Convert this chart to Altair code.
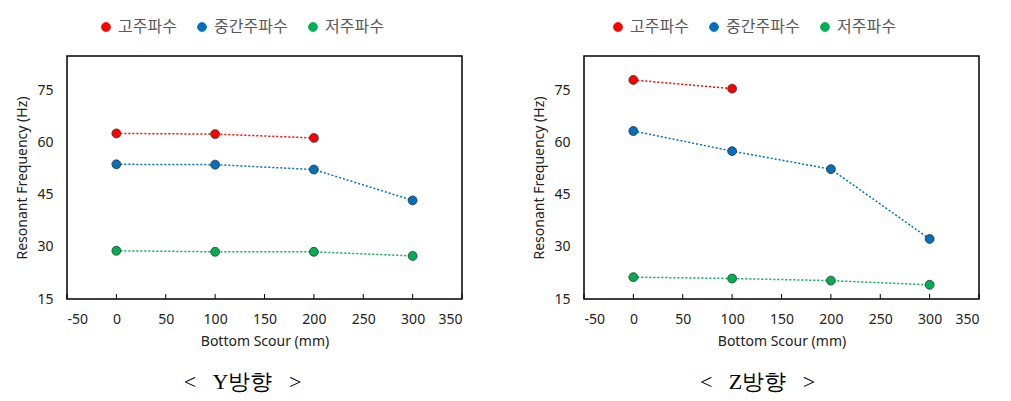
import altair as alt
import pandas as pd

series_names = ["고주파수", "중간주파수", "저주파수"]
series_colors = ["#FF0000", "#0070C0", "#00B050"]

scour = [0, 100, 200, 300]

# Y direction
y_high_x = [0, 100, 200]
y_high = [62.7, 62.5, 61.4]
y_mid = [53.8, 53.7, 52.3, 43.4]
y_low = [28.9, 28.6, 28.6, 27.4]

# Z direction
z_high_x = [0, 100]
z_high = [78.1, 75.6]
z_mid = [63.4, 57.6, 52.4, 32.3]
z_low = [21.3, 20.9, 20.3, 19.1]

x_ticks = [-50, 0, 50, 100, 150, 200, 250, 300, 350]
y_ticks = [15, 30, 45, 60, 75]

NB = "\u00a0"
panel_titles = ["<" + NB * 3 + "Y방향" + NB * 3 + ">", "<" + NB * 3 + "Z방향" + NB * 3 + ">"]

W, H = 395, 243
FONT = "Noto Sans"
KFONT = "Noto Sans CJK KR"


def make_df(hx, h, m, l):
    rows = []
    for x, v in zip(hx, h):
        rows.append({"x": x, "f": v, "s": series_names[0]})
    for x, v in zip(scour, m):
        rows.append({"x": x, "f": v, "s": series_names[1]})
    for x, v in zip(scour, l):
        rows.append({"x": x, "f": v, "s": series_names[2]})
    return pd.DataFrame(rows)


def panel(df, title, lx, tdx):
    xs = alt.Scale(domain=[-50, 350], nice=False, zero=False)
    ys = alt.Scale(domain=[15, 85], nice=False, zero=False)
    cs = alt.Scale(domain=series_names, range=series_colors)
    leg = alt.Legend(title=None, orient="none", legendX=lx, legendY=-37,
                     direction="horizontal", symbolType="circle",
                     symbolSize=80, symbolStrokeColor="#333333",
                     symbolStrokeWidth=0.8, labelFont=KFONT,
                     labelFontSize=16, labelColor="#595959",
                     labelOffset=4, columnPadding=17, padding=0)
    color = alt.Color("s:N", scale=cs, sort=series_names, legend=leg)
    xenc = alt.X("x:Q", scale=xs, title="Bottom Scour (mm)",
                 axis=alt.Axis(values=x_ticks, grid=False, domain=False, ticks=False,
                               labelExpr="datum.value < 0 ? '-' + abs(datum.value) : '' + datum.value",
                               labelFont=FONT, labelFontSize=14, labelColor="#222222",
                               labelPadding=13, titleFont=FONT, titleFontSize=14,
                               titleFontWeight="normal", titleColor="#222222", titlePadding=8))
    yenc = alt.Y("f:Q", scale=ys, title="Resonant Frequency (Hz)",
                 axis=alt.Axis(values=y_ticks, grid=False, domain=False, ticks=False,
                               labelFont=FONT, labelFontSize=14, labelColor="#222222",
                               labelPadding=14, titleFont=FONT, titleFontSize=14,
                               titleFontWeight="normal", titleColor="#222222", titlePadding=7))
    base = alt.Chart(df)
    lines = base.mark_line(strokeDash=[2, 2], strokeWidth=1.5).encode(
        x=xenc, y=yenc, color=color, detail="s:N",
    )
    pts = base.mark_point(filled=True, size=80, stroke="#333333", strokeWidth=0.8, opacity=1).encode(
        x=xenc, y=yenc, color=color,
    )
    tdf = pd.DataFrame({"x": x_ticks})
    ticks = alt.Chart(tdf).mark_rule(color="black", strokeWidth=1).encode(
        x=alt.X("x:Q", scale=xs), y=alt.value(H), y2=alt.value(H - 5)
    )
    return alt.layer(ticks, lines, pts).properties(
        width=W, height=H,
        title=alt.TitleParams(text=title, orient="bottom", font="Liberation Serif",
                              fontSize=22, fontWeight="normal", color="black", offset=24, dx=tdx),
    )


left = panel(make_df(y_high_x, y_high, y_mid, y_low), panel_titles[0], 31, -22)
right = panel(make_df(z_high_x, z_high, z_mid, z_low), panel_titles[1], 26, -24)

chart = alt.hconcat(left, right, spacing=68).resolve_scale(color="independent").properties(
    padding={"left": 7, "top": 10, "right": 5, "bottom": 5}
).configure_view(stroke="black", strokeWidth=1.5)

chart.save("out.html", embed_options={"renderer": "svg", "actions": False})
